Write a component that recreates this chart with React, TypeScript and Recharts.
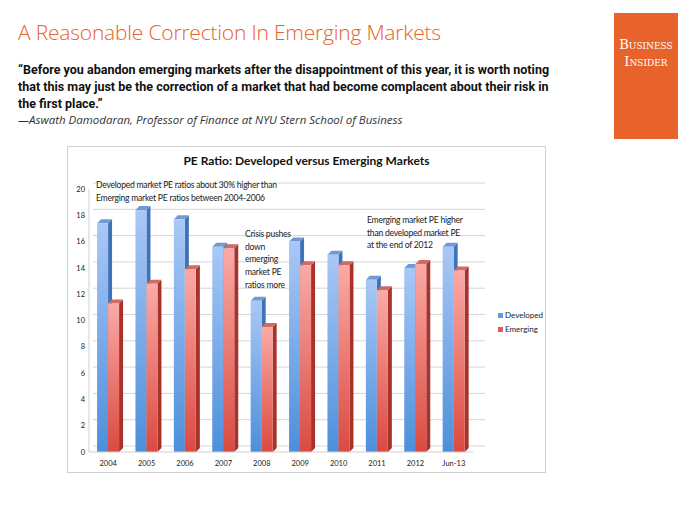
import React from "react";
import { BarChart, Bar, XAxis, YAxis, CartesianGrid, Legend } from "recharts";

const categories = ["2004", "2005", "2006", "2007", "2008", "2009", "2010", "2011", "2012", "Jun-13"];
const developed = [17.4, 18.4, 17.7, 15.6, 11.5, 16.0, 15.0, 13.1, 14.0, 15.6];
const emerging = [11.3, 12.8, 13.9, 15.5, 9.5, 14.2, 14.2, 12.3, 14.3, 13.8];
const yTicks = [0, 2, 4, 6, 8, 10, 12, 14, 16, 18, 20];

const quoteLines = [
  "“Before you abandon emerging markets after the disappointment of this year, it is worth noting",
  "that this may just be the correction of a market that had become complacent about their risk in",
  "the first place.”",
];

const data = categories.map((c, i) => ({ name: c, Developed: developed[i], Emerging: emerging[i] }));

const ORANGE = "#E8622B";
const LABEL_FONT = "Lato, 'Open Sans', sans-serif";

const DEPTH = 4;

const make3D = (front: string, side: string, top: string) => (props: any) => {
  const { x, y, width, height } = props;
  if (height == null || width == null) return null;
  const d = DEPTH;
  return (
    <g>
      <polygon
        points={`${x + width},${y} ${x + width + d},${y - d} ${x + width + d},${y + height - d} ${x + width},${y + height}`}
        fill={side}
      />
      <polygon
        points={`${x},${y} ${x + d},${y - d} ${x + width + d},${y - d} ${x + width},${y}`}
        fill={top}
      />
      <rect x={x} y={y} width={width} height={height} fill={front} />
    </g>
  );
};

const DevShape = make3D("url(#gradDev)", "#3f72b8", "#6f9ad6");
const EmgShape = make3D("url(#gradEmg)", "#a8332d", "#d06a63");

const gridLine = (props: any) => {
  const { x1, x2, y1, y2 } = props;
  return <line x1={x1 + 4} x2={x2 + 12} y1={y1 - 6} y2={y2 - 6} stroke="#d6d6d6" strokeWidth={1} />;
};

const LegendContent = (props: any) => {
  const { payload } = props;
  return (
    <div style={{ fontFamily: LABEL_FONT, fontSize: 8, color: "#222" }}>
      {(payload || []).map((p: any) => (
        <div key={p.value} style={{ display: "flex", alignItems: "center", height: 14 }}>
          <span style={{ display: "inline-block", width: 5, height: 5, background: p.color, marginRight: 2 }} />
          <span>{p.value}</span>
        </div>
      ))}
    </div>
  );
};

const annot: React.CSSProperties = {
  position: "absolute",
  fontFamily: LABEL_FONT,
  fontSize: 8.6,
  letterSpacing: -0.25,
  color: "#222",
  whiteSpace: "nowrap",
  lineHeight: "12.7px",
};

export default function App() {
  return (
    <div style={{ position: "absolute", left: 0, top: 0, width: 700, height: 525, background: "#fff", overflow: "hidden" }}>
      <div
        style={{
          position: "absolute",
          left: 18,
          top: 18,
          fontFamily: "'Open Sans', sans-serif",
          fontWeight: 300,
          fontSize: 21,
          color: ORANGE,
          whiteSpace: "nowrap",
          letterSpacing: -0.2,
        }}
      >
        A Reasonable Correction In Emerging Markets
      </div>
      <div
        style={{
          position: "absolute",
          left: 614,
          top: 13,
          width: 64,
          height: 126,
          background: ORANGE,
          color: "#fff",
          fontFamily: "'DejaVu Serif', 'Liberation Serif', serif",
          fontVariant: "small-caps",
          fontSize: 13,
          textAlign: "center",
          lineHeight: "17px",
          paddingTop: 23,
          boxSizing: "border-box",
          letterSpacing: 0,
        }}
      >
        <div>Business</div>
        <div>Insider</div>
      </div>
      {quoteLines.map((line, i) => (
        <div
          key={i}
          style={{
            position: "absolute",
            left: 18,
            top: 63.5 + i * 17.25,
            fontFamily: "Roboto, 'Open Sans', sans-serif",
            fontWeight: 700,
            fontSize: 12.5,
            lineHeight: "12px",
            color: "#111",
            whiteSpace: "nowrap",
          }}
        >
          {line}
        </div>
      ))}
      <div
        style={{
          position: "absolute",
          left: 18,
          top: 114,
          fontFamily: "'Open Sans', sans-serif",
          fontStyle: "italic",
          fontSize: 11.5,
          lineHeight: "11px",
          color: "#333",
          whiteSpace: "nowrap",
        }}
      >
        —Aswath Damodaran, Professor of Finance at NYU Stern School of Business
      </div>

      <div
        style={{
          position: "absolute",
          left: 67,
          top: 146,
          width: 479,
          height: 327,
          border: "1px solid #cfcfcf",
          boxSizing: "border-box",
        }}
      />
      <div
        style={{
          position: "absolute",
          left: 67,
          top: 153,
          width: 479,
          textAlign: "center",
          fontFamily: LABEL_FONT,
          fontWeight: 700,
          fontSize: 12,
          color: "#111",
        }}
      >
        PE Ratio: Developed versus Emerging Markets
      </div>

      <div style={{ position: "absolute", left: 67, top: 146 }}>
        <BarChart
          width={480}
          height={328}
          data={data}
          margin={{ top: 43, right: 74, left: 0, bottom: 0 }}
          barCategoryGap="21%"
          barGap={0}
        >
          <defs>
            <linearGradient id="gradDev" x1="0" y1="0" x2="0" y2="1">
              <stop offset="0%" stopColor="#a9c8f6" />
              <stop offset="100%" stopColor="#4d8fdb" />
            </linearGradient>
            <linearGradient id="gradEmg" x1="0" y1="0" x2="0" y2="1">
              <stop offset="0%" stopColor="#faaaa6" />
              <stop offset="100%" stopColor="#db4a40" />
            </linearGradient>
          </defs>
          <CartesianGrid vertical={false} horizontal={gridLine} />
          <XAxis
            dataKey="name"
            height={22}
            tickLine={false}
            axisLine={{ stroke: "#cfcfcf" }}
            tickMargin={3}
            interval={0}
            tick={{ fontSize: 7.5, fill: "#222", fontFamily: LABEL_FONT }}
          />
          <YAxis
            width={22}
            domain={[0, 20]}
            ticks={yTicks}
            interval={0}
            tickLine={false}
            axisLine={{ stroke: "#cfcfcf" }}
            tickSize={0}
            tickMargin={4}
            tick={{ fontSize: 7.5, fill: "#222", fontFamily: LABEL_FONT }}
          />
          <Legend
            layout="vertical"
            align="center"
            verticalAlign="middle"
            content={<LegendContent />}
            wrapperStyle={{ position: "absolute", left: 431, top: 162, width: 60 }}
          />
          <Bar dataKey="Developed" fill="#5b9be6" shape={DevShape} isAnimationActive={false} />
          <Bar dataKey="Emerging" fill="#e45a50" shape={EmgShape} isAnimationActive={false} />
        </BarChart>
      </div>

      <div style={{ ...annot, left: 96, top: 179 }}>
        Developed market PE ratios about 30% higher than
        <br />
        Emerging market PE ratios between 2004-2006
      </div>
      <div style={{ ...annot, left: 245, top: 228 }}>
        Crisis pushes
        <br />
        down
        <br />
        emerging
        <br />
        market PE
        <br />
        ratios more
      </div>
      <div style={{ ...annot, left: 367, top: 214 }}>
        Emerging market PE higher
        <br />
        than developed market PE
        <br />
        at the end of 2012
      </div>
    </div>
  );
}
